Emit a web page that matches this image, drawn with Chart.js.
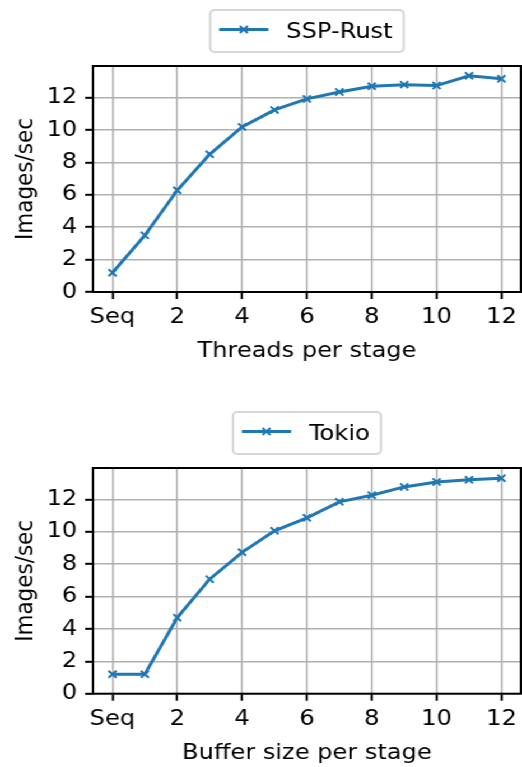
<!DOCTYPE html>
<html><head><meta charset="utf-8">
<script src="https://cdn.jsdelivr.net/npm/chart.js@4/dist/chart.umd.min.js"></script>
<style>
html,body{margin:0;padding:0;background:#fff;overflow:hidden;width:522px;height:767px;}
#wrap{position:absolute;left:0;top:0;width:466px;height:767px;transform:scaleX(1.1202);transform-origin:0 0;}
#c1{position:absolute;left:0;top:0;}
#c2{position:absolute;left:0;top:402px;}
</style></head><body>
<div id="wrap"><canvas id="c1" width="466" height="402"></canvas><canvas id="c2" width="466" height="365"></canvas></div>
<script>
// ---- data ----
const stages = [0,1,2,3,4,5,6,7,8,9,10,11,12];
const xTickValues = [0,2,4,6,8,10,12];
const xTickLabels = ['Seq','2','4','6','8','10','12'];
const yTickValues = [0,2,4,6,8,10,12];
const sspRust = [1.19,3.5,6.28,8.5,10.19,11.24,11.92,12.35,12.7,12.8,12.74,13.35,13.16];
const tokio = [1.2,1.2,4.7,7.08,8.74,10.07,10.87,11.86,12.27,12.78,13.09,13.22,13.32];
const seriesNames = ['SSP-Rust','Tokio'];
const xTitles = ['Threads per stage','Buffer size per stage'];
const yTitle = 'Images/sec';

const FONT = 'DejaVu Sans';
const FS = 21.5;
const BLUE = '#1f77b4';
Chart.defaults.font.family = FONT;
Chart.defaults.font.size = FS;
Chart.defaults.color = '#000';

const framePlugin = {
  id: 'frame',
  afterDatasetsDraw(chart) {
    const {ctx, chartArea: a} = chart;
    ctx.save();
    ctx.strokeStyle = '#000';
    ctx.lineWidth = 2;
    ctx.strokeRect(a.left, a.top, a.right - a.left, a.bottom - a.top);
    ctx.restore();
  }
};

const legendPlugin = {
  id: 'boxLegend',
  afterDraw(chart) {
    const {ctx, chartArea: a} = chart;
    const ds = chart.data.datasets[0];
    ctx.save();
    ctx.font = FS + 'px "' + FONT + '"';
    const tw = ctx.measureText(ds.label).width;
    const padL = 8, handle = 44, gap = 16, padR = 10;
    const w = padL + handle + gap + tw + padR;
    const cx = (a.left + a.right) / 2;
    const x0 = cx - w / 2, y0 = 10, h = 42;
    const r = 4;
    ctx.beginPath();
    ctx.moveTo(x0 + r, y0);
    ctx.arcTo(x0 + w, y0, x0 + w, y0 + h, r);
    ctx.arcTo(x0 + w, y0 + h, x0, y0 + h, r);
    ctx.arcTo(x0, y0 + h, x0, y0, r);
    ctx.arcTo(x0, y0, x0 + w, y0, r);
    ctx.closePath();
    ctx.fillStyle = 'rgba(255,255,255,0.8)';
    ctx.fill();
    ctx.strokeStyle = '#d6d6d6';
    ctx.lineWidth = 2;
    ctx.stroke();
    const ly = 29.5;
    ctx.strokeStyle = ds.borderColor;
    ctx.lineWidth = ds.borderWidth;
    ctx.beginPath();
    ctx.moveTo(x0 + padL, ly);
    ctx.lineTo(x0 + padL + handle, ly);
    ctx.stroke();
    const mx = x0 + padL + handle / 2, d = 3.5;
    ctx.lineWidth = 2;
    ctx.beginPath();
    ctx.moveTo(mx - d, ly - d); ctx.lineTo(mx + d, ly + d);
    ctx.moveTo(mx - d, ly + d); ctx.lineTo(mx + d, ly - d);
    ctx.stroke();
    ctx.fillStyle = '#000';
    ctx.textBaseline = 'alphabetic';
    ctx.textAlign = 'left';
    ctx.fillText(ds.label, x0 + padL + handle + gap, 38.3);
    ctx.restore();
  }
};

function zeroPad(s) { s.paddingLeft = 0; s.paddingRight = 0; s.paddingTop = 0; s.paddingBottom = 0; }

function makeChart(canvasId, label, values, xTitle, padBottom) {
  return new Chart(document.getElementById(canvasId), {
    type: 'line',
    data: {
      datasets: [{
        label: label,
        data: stages.map((s, i) => ({x: s, y: values[i]})),
        borderColor: BLUE,
        backgroundColor: BLUE,
        borderWidth: 3,
        pointStyle: 'crossRot',
        pointRadius: 5,
        pointBorderWidth: 2,
        pointBorderColor: BLUE,
        tension: 0,
        fill: false
      }]
    },
    options: {
      responsive: false,
      animation: false,
      devicePixelRatio: 1,
      layout: {autoPadding: false, padding: {top: 66, right: 1, bottom: padBottom, left: 0}},
      plugins: {legend: {display: false}, tooltip: {enabled: false}},
      scales: {
        x: {
          type: 'linear',
          min: -0.6, max: 12.6,
          afterBuildTicks: s => { s.ticks = xTickValues.map(v => ({value: v})); },
          afterFit: s => { s.height = 73.3; zeroPad(s); },
          ticks: {
            autoSkip: false, maxRotation: 0, padding: 6,
            callback: v => xTickLabels[xTickValues.indexOf(v)]
          },
          grid: {color: '#b0b0b0', lineWidth: 1.6, tickColor: '#000', tickWidth: 2, tickLength: 7},
          border: {display: false},
          title: {display: true, text: xTitle, padding: {top: 0, bottom: 0.5}, font: {size: FS}}
        },
        y: {
          type: 'linear',
          min: 0, max: 13.95,
          afterBuildTicks: s => { s.ticks = yTickValues.map(v => ({value: v})); },
          afterFit: s => { s.width = 83; zeroPad(s); },
          ticks: {padding: 7, autoSkip: false},
          grid: {color: '#b0b0b0', lineWidth: 1.6, tickColor: '#000', tickWidth: 2, tickLength: 7},
          border: {display: false},
          title: {display: true, text: yTitle, padding: {top: 10.6, bottom: 0}, font: {size: FS}}
        }
      }
    },
    plugins: [framePlugin, legendPlugin]
  });
}

makeChart('c1', seriesNames[0], sspRust, xTitles[0], 36.7);
makeChart('c2', seriesNames[1], tokio, xTitles[1], 0);
</script>
</body></html>
